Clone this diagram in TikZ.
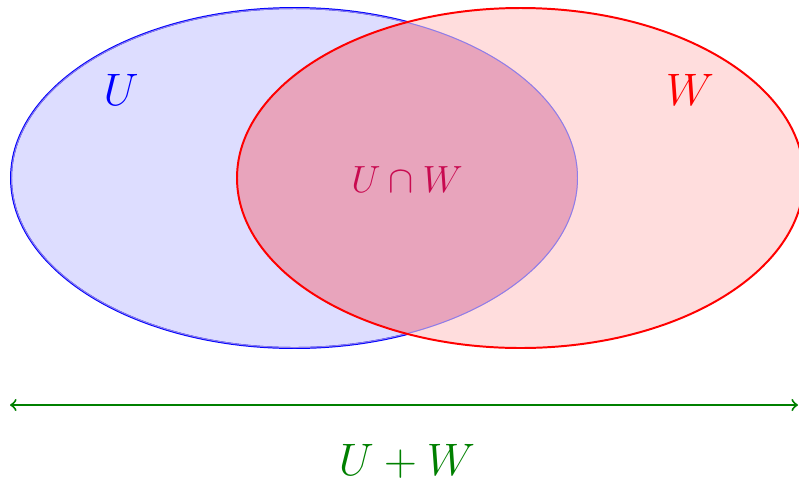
\documentclass[tikz,border=0pt]{standalone}
\begin{document}
\begin{tikzpicture}[x=0.38pt,y=-0.38pt,
  bfillc/.style={fill={rgb,255:red,221;green,221;blue,255}},
  rfillc/.style={fill={rgb,255:red,255;green,221;blue,221}},
  ofillc/.style={fill={rgb,255:red,232;green,164;blue,188}},
  outl/.style={line width=0.75pt},
  lbl/.style={inner sep=0pt}]
\useasboundingbox (0,0) rectangle (799,482);
\coordinate (cu) at (294.5,178);
\coordinate (cw) at (520.5,178);
\def\ellU{(cu) ellipse [x radius=107.73pt, y radius=64.6pt]}
\def\ellW{(cw) ellipse [x radius=107.73pt, y radius=64.6pt]}
% blue set
\fill[bfillc] \ellU;
\draw[outl,blue] \ellU;
% red set
\fill[rfillc] \ellW;
% overlap
\begin{scope}
  \clip \ellU;
  \fill[ofillc] \ellW;
  \draw[outl,draw={rgb,255:red,140;green,125;blue,235}] \ellU;
\end{scope}
\draw[outl,red] \ellW;
% labels
\node[lbl,blue] (lu) at (121,90) {\LARGE $U$};
\node[lbl,red] (lw) at (690,90) {\LARGE $W$};
\node[lbl,text={rgb,255:red,200;green,10;blue,80}] (luw) at (407,180) {\Large $U\cap W$};
% sum arrow
\coordinate (al) at (10,405);
\coordinate (ar) at (798,405);
\draw[outl,green!50!black,<->] (al) -- (ar);
\node[lbl,green!50!black] (lsum) at (407,461) {\LARGE $U+W$};
\end{tikzpicture}
\end{document}
